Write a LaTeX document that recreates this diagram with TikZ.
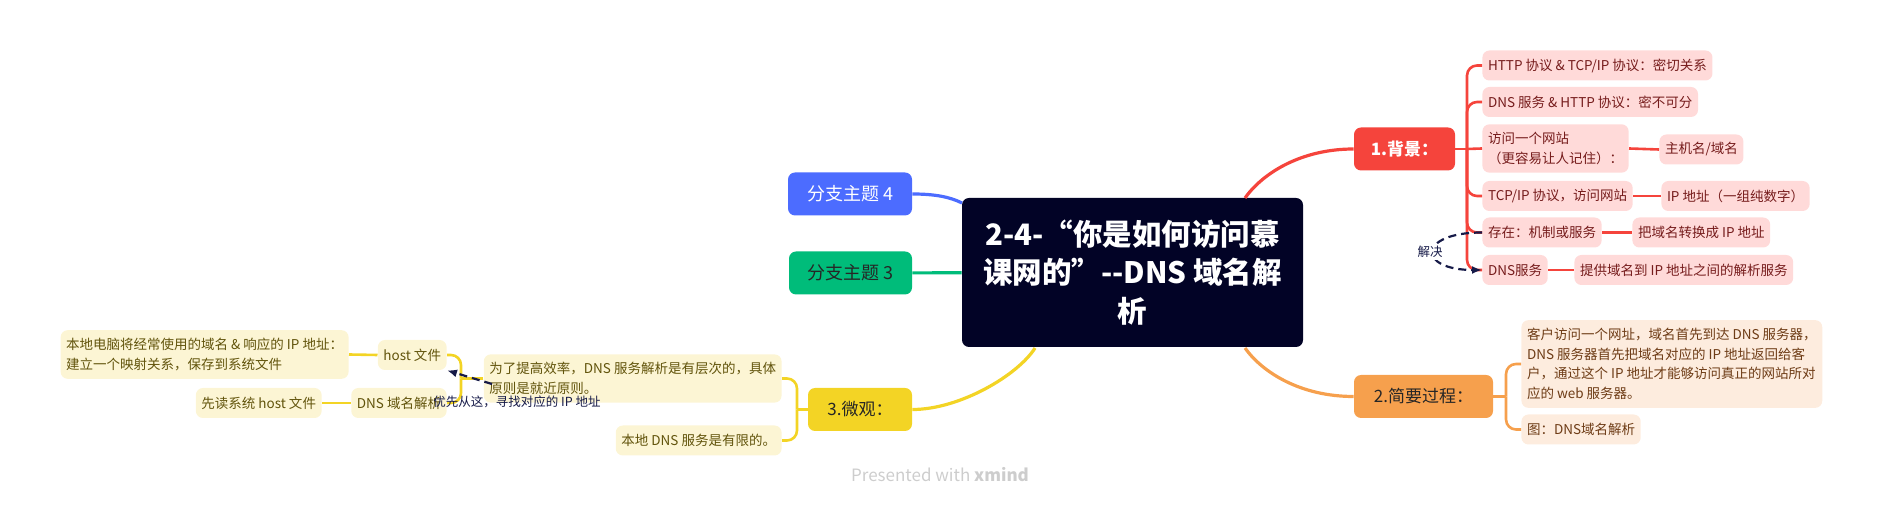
\documentclass[tikz,border=0pt]{standalone}
\usepackage{fontspec}
\setmainfont{Noto Sans CJK SC}
\usepackage{xcolor}
\usetikzlibrary{positioning,calc,arrows.meta}
\definecolor{titlebg}{RGB}{2,3,38}
\definecolor{redmain}{RGB}{245,68,60}
\definecolor{redlight}{RGB}{255,218,217}
\definecolor{redtext}{RGB}{118,28,28}
\definecolor{orgmain}{RGB}{246,160,77}
\definecolor{orglight}{RGB}{253,236,222}
\definecolor{orgtext}{RGB}{110,60,22}
\definecolor{yelmain}{RGB}{243,212,37}
\definecolor{yellight}{RGB}{252,245,212}
\definecolor{yeltext}{RGB}{98,84,12}
\definecolor{bluemain}{RGB}{76,108,255}
\definecolor{greenmain}{RGB}{0,188,122}
\definecolor{relnavy}{RGB}{22,26,72}
\definecolor{markgray}{RGB}{205,205,205}

\begin{document}
\begin{tikzpicture}[x=0.5pt, y=-0.5pt, >={Latex[length=5pt,width=4pt]},
    topic/.style={rounded corners=3.5pt, minimum height=21.5pt, inner xsep=6pt, font=\fontsize{8.5}{10}\selectfont},
    leaf/.style={rounded corners=3.5pt, minimum height=15pt, inner xsep=2.8pt, inner ysep=4pt, align=left, font=\fontsize{6.75}{9.85}\selectfont},
    redleaf/.style={leaf, fill=redlight, text=redtext},
    orgleaf/.style={leaf, fill=orglight, text=orgtext},
    yelleaf/.style={leaf, fill=yellight, text=yeltext},
    redline/.style={draw=redmain, line width=1.3pt},
    orgline/.style={draw=orgmain, line width=1.3pt},
    yelline/.style={draw=yelmain, line width=1.3pt},
    rel/.style={draw=relnavy, line width=1.1pt, dash pattern=on 4pt off 2.5pt},
    rellabel/.style={text=relnavy, font=\fontsize{6.25}{7.5}\selectfont}]
    \useasboundingbox (0,0) rectangle (1882,506);

    % Central topic
    \node [fill=titlebg, text=white, rounded corners=3.5pt, minimum width=170.5pt, minimum height=74.5pt, align=center,
        font=\fontsize{14.75}{19.25}\selectfont\bfseries] (title) at (1132.5,272.5)
        {2-4-“你是如何访问慕\\课网的”-{}-DNS 域名解\\析};
    \coordinate (redA) at (1245,198);
    \coordinate (orgA) at (1245,348);
    \coordinate (yelA) at (1035,348);
    \coordinate (bluA) at (962,203);

    % Main topics
    \node [topic, fill=redmain, text=white, minimum width=50.5pt, font=\fontsize{8.5}{10}\selectfont\bfseries] (bg) at (1404.5,149) {1.背景：};
    \node [topic, fill=orgmain, text=black!85, minimum width=69.5pt] (sum) at (1423.5,396.5) {2.简要过程：};
    \node [topic, fill=yelmain, text=black!85, minimum width=52pt] (micro) at (860,409.5) {3.微观：};
    \node [topic, fill=bluemain, text=white, minimum width=62pt, font=\fontsize{9}{10}\selectfont] (bt) at (850,194) {分支主题 4};
    \node [topic, fill=greenmain, text=black!85, minimum width=61.5pt, font=\fontsize{9}{10}\selectfont] (gt) at (850.5,273) {分支主题 3};

    % 1. background
    \node [redleaf, anchor=west] (bg1) at (1482,65.5) {HTTP 协议 \& TCP/IP 协议：密切关系};
    \node [redleaf, anchor=west] (bg2) at (1482,102) {DNS 服务 \& HTTP 协议：密不可分};
    \node [redleaf, anchor=west] (bg3) at (1482,148.5) {访问一个网站\\（更容易让人记住）：};
    \node [redleaf, anchor=west] (bg4) at (1482,196) {TCP/IP 协议，访问网站};
    \node [redleaf, anchor=west] (bg5) at (1482,232.5) {存在：机制或服务};
    \node [redleaf, anchor=west] (bg6) at (1482,270) {DNS服务};
    \node [redleaf, anchor=west] (bg3a) at (1659,149.5) {主机名/域名};
    \node [redleaf, anchor=west] (bg4a) at (1661,196) {IP 地址（一组纯数字）};
    \node [redleaf, anchor=west] (bg5a) at (1632,232.5) {把域名转换成 IP 地址};
    \node [redleaf, anchor=west] (bg6a) at (1574,270) {提供域名到 IP 地址之间的解析服务};
    \coordinate (bgJ) at (1467,149);

    % 2. short process
    \node [orgleaf, anchor=west] (sum1) at (1521,364)
        {客户访问一个网址，域名首先到达 DNS 服务器，\\DNS 服务器首先把域名对应的 IP 地址返回给客\\户，通过这个 IP 地址才能够访问真正的网站所对\\应的 web 服务器。};
    \node [orgleaf, anchor=west] (sum2) at (1521,429.5) {图：DNS域名解析};
    \coordinate (sumJ) at (1506,396.5);

    % 3. micro view
    \node [yelleaf, anchor=east] (mic1) at (782,378.5) {为了提高效率，DNS 服务解析是有层次的，具体\\原则是就近原则。};
    \node [yelleaf, anchor=east] (mic2) at (782,440.5) {本地 DNS 服务是有限的。};
    \node [yelleaf, anchor=east] (host) at (447,355) {host 文件};
    \node [yelleaf, anchor=east] (hostmap) at (349,354.5) {本地电脑将经常使用的域名 \& 响应的 IP 地址：\\建立一个映射关系，保存到系统文件};
    \node [yelleaf, anchor=east] (dnsres) at (447,403) {DNS 域名解析};
    \node [yelleaf, anchor=east] (readhost) at (322,403) {先读系统 host 文件};
    \coordinate (micJ) at (797,409.5);
    \coordinate (mic1J) at (461,378.5);

    % Connections
    \draw [redline, line width=1.6pt] (redA) .. controls (1262,174) and (1300,149) .. (bg.west);
    \draw [orgline, line width=1.6pt] (orgA) .. controls (1262,372) and (1300,396.5) .. (sum.west);
    \draw [yelline, line width=1.6pt] (yelA) .. controls (1018,375) and (960,409.5) .. (micro.east);
    \draw [draw=bluemain, line width=1.6pt] (bt.east) .. controls (935,194) and (950,197) .. (bluA);
    \draw [draw=greenmain, line width=1.6pt] (gt) -- (title);

    \draw [redline] (bg.east) -- (bgJ);
    \draw [redline, rounded corners=5pt] (bgJ) |- (bg1.west);
    \draw [redline, rounded corners=5pt] (bgJ) |- (bg2.west);
    \draw [redline] (bgJ) -- (bg3.west);
    \draw [redline, rounded corners=5pt] (bgJ) |- (bg4.west);
    \draw [redline, rounded corners=5pt] (bgJ) |- (bg5.west);
    \draw [redline, rounded corners=5pt] (bgJ) |- (bg6.west);
    \draw [redline] (bg3.east) -- (bg3a.west);
    \draw [redline] (bg4.east) -- (bg4a.west);
    \draw [redline] (bg5.east) -- (bg5a.west);
    \draw [redline] (bg6.east) -- (bg6a.west);

    \draw [orgline] (sum.east) -- (sumJ);
    \draw [orgline, rounded corners=5pt] (sumJ) |- (sum1.west);
    \draw [orgline, rounded corners=5pt] (sumJ) |- (sum2.west);

    \draw [yelline] (micro.west) -- (micJ);
    \draw [yelline, rounded corners=5pt] (micJ) |- (mic1.east);
    \draw [yelline, rounded corners=5pt] (micJ) |- (mic2.east);
    \draw [yelline] (mic1.west) -- (mic1J);
    \draw [yelline, rounded corners=5pt] (mic1J) |- (host.east);
    \draw [yelline, rounded corners=5pt] (mic1J) |- (dnsres.east);
    \draw [yelline] (host.west) -- (hostmap.east);
    \draw [yelline] (dnsres.west) -- (readhost.east);

    % Relationships
    \draw [rel, ->] (bg5.west) .. controls +(-65,0) and +(-65,0) .. (bg6.west);
    \node [rellabel, fill=white, inner sep=1pt] (solve) at (1430,252) {解决};
    \coordinate (prioA) at (492,384);
    \draw [rel, ->] (prioA) -- (host.south east);
    \node [rellabel] (prio) at (517,402) {优先从这，寻找对应的 IP 地址};

    % Watermark
    \node [text=markgray, font=\fontsize{8.5}{10}\selectfont] (mark) at (940,475) {Presented with \textbf{xmind}};
\end{tikzpicture}
\end{document}
